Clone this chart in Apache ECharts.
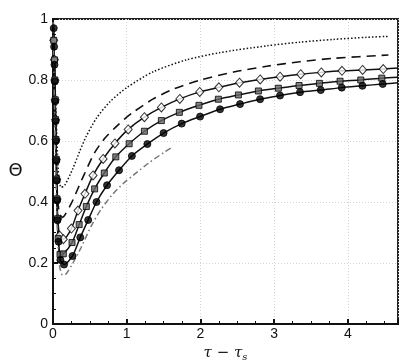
<!DOCTYPE html>
<html>
<head>
<meta charset="utf-8">
<script src="https://cdn.jsdelivr.net/npm/echarts@6/dist/echarts.min.js"></script>
<style>
  html, body { margin: 0; padding: 0; background: #fff; }
  #chart { width: 407px; height: 362px; }
</style>
</head>
<body>
<div id="chart"></div>
<script>
// x = tau - tau_s, y = Theta
const xTicks = [0, 1, 2, 3, 4]
const yTicks = [0, 0.2, 0.4, 0.6, 0.8, 1]

const dottedPts = [[0, 0.995], [0.02, 0.85], [0.04, 0.7], [0.06, 0.56], [0.08, 0.48], [0.11, 0.448], [0.16, 0.455],
  [0.27, 0.51], [0.36, 0.565], [0.45, 0.615], [0.59, 0.675], [0.77, 0.728], [1.0, 0.775], [1.36, 0.827],
  [1.81, 0.866], [2.27, 0.89], [2.9, 0.912], [3.35, 0.924], [3.8, 0.933], [4.26, 0.94], [4.55, 0.943]]

const dashedPts = [[0, 0.995], [0.02, 0.8], [0.04, 0.6], [0.06, 0.42], [0.09, 0.36], [0.13, 0.35], [0.16, 0.357],
  [0.25, 0.396], [0.34, 0.445], [0.43, 0.494], [0.565, 0.562], [0.7, 0.608], [0.84, 0.643], [0.97, 0.672],
  [1.085, 0.694], [1.36, 0.738], [1.63, 0.77], [2.0, 0.8], [2.45, 0.826], [2.9, 0.845], [3.35, 0.86],
  [3.8, 0.871], [4.55, 0.882]]

const diamondPts = [[0, 1], [0.01, 0.93], [0.02, 0.866], [0.025, 0.8], [0.03, 0.735], [0.035, 0.67], [0.04, 0.605],
  [0.045, 0.54], [0.05, 0.475], [0.055, 0.41], [0.065, 0.345], [0.09, 0.29], [0.14, 0.278], [0.249, 0.313],
  [0.339, 0.372], [0.434, 0.427], [0.543, 0.487], [0.68, 0.541], [0.84, 0.592], [1.02, 0.638], [1.24, 0.678],
  [1.47, 0.71], [1.72, 0.738], [1.99, 0.761], [2.25, 0.776], [2.53, 0.791], [2.81, 0.802], [3.08, 0.811],
  [3.36, 0.819], [3.64, 0.825], [3.92, 0.83], [4.2, 0.833], [4.48, 0.836], [4.68, 0.839]]

const squarePts = [[0, 1], [0.01, 0.93], [0.02, 0.866], [0.025, 0.8], [0.03, 0.735], [0.035, 0.67], [0.04, 0.605],
  [0.045, 0.54], [0.05, 0.475], [0.055, 0.41], [0.06, 0.345], [0.07, 0.28], [0.095, 0.228], [0.14, 0.23],
  [0.258, 0.267], [0.355, 0.326], [0.452, 0.385], [0.565, 0.443], [0.696, 0.495], [0.852, 0.548], [1.033, 0.591],
  [1.24, 0.632], [1.47, 0.667], [1.714, 0.694], [1.98, 0.717], [2.243, 0.737], [2.515, 0.751], [2.786, 0.764],
  [3.057, 0.773], [3.338, 0.782], [3.614, 0.789], [3.894, 0.796], [4.175, 0.8], [4.46, 0.806], [4.68, 0.809]]

const circlePts = [[0, 1], [0.01, 0.97], [0.015, 0.909], [0.02, 0.85], [0.025, 0.795], [0.03, 0.73], [0.035, 0.665],
  [0.04, 0.6], [0.045, 0.535], [0.05, 0.47], [0.055, 0.405], [0.06, 0.34], [0.075, 0.27], [0.1, 0.21],
  [0.15, 0.195], [0.265, 0.223], [0.37, 0.284], [0.477, 0.341], [0.59, 0.4], [0.733, 0.455], [0.896, 0.504],
  [1.07, 0.551], [1.28, 0.59], [1.5, 0.626], [1.746, 0.657], [1.995, 0.68], [2.266, 0.704], [2.537, 0.721],
  [2.809, 0.737], [3.08, 0.749], [3.351, 0.76], [3.632, 0.767], [3.917, 0.775], [4.197, 0.781], [4.473, 0.787],
  [4.68, 0.791]]

const dashDotPts = [[0, 0.99], [0.03, 0.6], [0.06, 0.3], [0.09, 0.19], [0.13, 0.16], [0.18, 0.165], [0.27, 0.2],
  [0.38, 0.25], [0.52, 0.322], [0.65, 0.375], [0.8, 0.423], [0.95, 0.46], [1.09, 0.488], [1.3, 0.528],
  [1.52, 0.565], [1.61, 0.579]]

const chart = echarts.init(document.getElementById('chart'))

const font = 'Liberation Sans, Arial, sans-serif'

function curve(data, type, color, width) {
  return {
    type: 'line',
    data: data,
    smooth: 0.25,
    showSymbol: false,
    silent: true,
    lineStyle: { color: color, width: width, type: type }
  }
}

// markers sit on every point except the two ends
function marks(data, symbol, size, fill) {
  return {
    type: 'scatter',
    data: data.slice(1, -1),
    symbol: symbol,
    symbolSize: size,
    silent: true,
    z: 5,
    itemStyle: { color: fill, borderColor: '#000', borderWidth: 1 }
  }
}

const option = {
  animation: false,
  backgroundColor: '#fff',
  grid: {
    left: 53, right: 9, top: 19, bottom: 38,
    outerBoundsMode: 'none',
    containLabel: false,
    show: true, borderColor: '#222', borderWidth: 2, backgroundColor: 'transparent'
  },
  xAxis: {
    type: 'value',
    min: 0,
    max: 4.68,
    interval: 1,
    axisLine: { lineStyle: { color: '#111', width: 2 } },
    axisTick: { inside: true, length: 5, lineStyle: { color: '#111', width: 2 } },
    minorTick: { show: true, splitNumber: 4, length: 3, lineStyle: { color: '#111', width: 1 } },
    splitLine: { show: true, lineStyle: { color: '#d4d4d4', type: [1, 2], width: 1 } },
    axisLabel: {
      fontFamily: font, fontSize: 14, color: '#111', margin: 3,
      formatter: v => (xTicks.includes(v) ? String(v) : '')
    },
    name: '{a|τ − τ}{s|s}',
    nameLocation: 'middle',
    nameGap: 15,
    nameTextStyle: {
      rich: {
        a: { fontFamily: 'DejaVu Serif, serif', fontStyle: 'italic', fontSize: 15, color: '#111' },
        s: { fontFamily: 'DejaVu Serif, serif', fontStyle: 'italic', fontSize: 10, color: '#111', verticalAlign: 'bottom', padding: [8, 0, 0, 0] }
      }
    }
  },
  yAxis: {
    type: 'value',
    min: 0,
    max: 1,
    interval: 0.2,
    axisLine: { lineStyle: { color: '#111', width: 2 } },
    axisTick: { inside: true, length: 5, lineStyle: { color: '#111', width: 2 } },
    minorTick: { show: true, splitNumber: 4, length: 3, lineStyle: { color: '#111', width: 1 } },
    splitLine: { show: true, lineStyle: { color: '#d4d4d4', type: [1, 2], width: 1 } },
    axisLabel: {
      fontFamily: font, fontSize: 14, color: '#111', margin: 5,
      formatter: v => {
        const t = yTicks.find(k => Math.abs(k - v) < 1e-6)
        return t === undefined ? '' : String(t)
      }
    },
    name: 'Θ',
    nameLocation: 'middle',
    nameRotate: 0,
    nameGap: 27,
    nameTextStyle: { fontFamily: 'DejaVu Sans, sans-serif', fontSize: 18, color: '#111' }
  },
  series: [
    curve(dottedPts, [1.5, 2], '#111', 1.5),
    curve(dashedPts, [9, 6], '#111', 1.6),
    curve(diamondPts, 'solid', '#111', 1.5),
    curve(squarePts, 'solid', '#111', 1.5),
    curve(circlePts, 'solid', '#111', 1.5),
    curve(dashDotPts, [6, 3, 1.5, 3], '#777', 1.5),
    marks(diamondPts, 'diamond', [8, 9], '#fff'),
    marks(squarePts, 'rect', 6, '#666'),
    marks(circlePts, 'circle', 7, '#000')
  ]
}

chart.setOption(option)
</script>
</body>
</html>
